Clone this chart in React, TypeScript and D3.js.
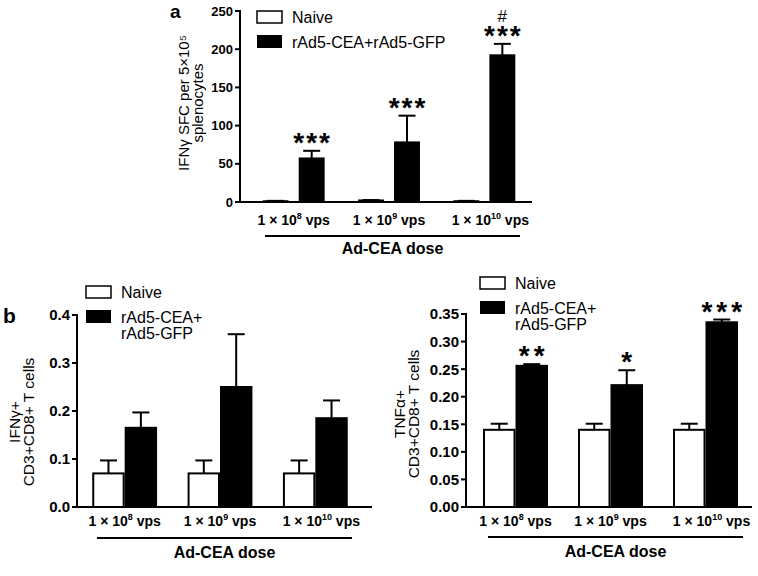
import React from "react";
import * as d3 from "d3";

// shared categories
const doses = ["1e8", "1e9", "1e10"];
const doseExp = ["8", "9", "10"];
const groups = ["naive", "treated"];

// panel a: IFNγ SFC per 5x10^5 splenocytes
const elispotNaive = [1, 2, 1];
const elispotNaiveTop = [1.5, 2.5, 1.5];
const elispotTreated = [57, 78, 192];
const elispotTreatedTop = [67, 113, 207];
const elispotStars = ["***", "***", "***"];
const elispotHash = ["", "", "#"];
const elispotTicks = [0, 50, 100, 150, 200, 250];

// panel b left: IFNγ+ CD3+CD8+ T cells
const ifnNaive = [0.07, 0.07, 0.07];
const ifnNaiveTop = [0.097, 0.097, 0.097];
const ifnTreated = [0.165, 0.25, 0.185];
const ifnTreatedTop = [0.197, 0.36, 0.222];
const ifnStars = ["", "", ""];
const ifnTicks = [0, 0.1, 0.2, 0.3, 0.4];

// panel b right: TNFα+ CD3+CD8+ T cells
const tnfNaive = [0.14, 0.14, 0.14];
const tnfNaiveTop = [0.151, 0.151, 0.151];
const tnfTreated = [0.256, 0.221, 0.335];
const tnfTreatedTop = [0.259, 0.248, 0.34];
const tnfStars = ["**", "*", "***"];
const tnfTicks = [0, 0.05, 0.1, 0.15, 0.2, 0.25, 0.3, 0.35];

const FONT = "'Liberation Sans', Arial, sans-serif";

type PanelProps = {
  x0: number;
  x1: number;
  yTop: number;
  yBottom: number;
  max: number;
  ticks: number[];
  fmt: (d: number) => string;
  tickSize: number;
  band: [number, number];
  pad: number;
  innerPad: number;
  naive: number[];
  naiveTop: number[];
  treated: number[];
  treatedTop: number[];
  stars: string[];
  hash?: string[];
  starSpacing: number;
  catY: number;
  line: [number, number, number];
  titleY: number;
  yLabel: string[];
  yLabelX: number[];
  yLabelY: number;
  yLabelSize: number;
};

const DoseLabel = ({ x, y, exp }: { x: number; y: number; exp: string }) => (
  <text x={x} y={y} textAnchor="middle" fontSize={14} fontWeight="bold" fontFamily={FONT}>
    <tspan>1 × 10</tspan>
    <tspan dy={-6} fontSize={9}>{exp}</tspan>
    <tspan dy={6}> vps</tspan>
  </text>
);

const Panel = (p: PanelProps) => {
  const y = d3.scaleLinear().domain([0, p.max]).range([p.yBottom, p.yTop]);
  const x = d3.scaleBand().domain(doses).range(p.band).paddingInner(p.pad).paddingOuter(p.pad / 2);
  const sub = d3.scaleBand().domain(groups).range([0, x.bandwidth()]).paddingInner(p.innerPad);
  const bw = sub.bandwidth();
  const cap = 17;
  const starSize = 28;

  return (
    <g fontFamily={FONT}>
      {doses.map((d, i) => {
        const rows = [
          { g: "naive", v: p.naive[i], top: p.naiveTop[i], fill: "#fff" },
          { g: "treated", v: p.treated[i], top: p.treatedTop[i], fill: "#000" },
        ];
        const tx = (x(d) as number) + (sub("treated") as number) + bw / 2;
        return (
          <g key={d}>
            {rows.map((r) => {
              const bx = (x(d) as number) + (sub(r.g) as number);
              const cx = bx + bw / 2;
              return (
                <g key={r.g}>
                  <line x1={cx} x2={cx} y1={y(r.v)} y2={y(r.top)} stroke="#000" strokeWidth={2} />
                  <line x1={cx - cap / 2} x2={cx + cap / 2} y1={y(r.top)} y2={y(r.top)} stroke="#000" strokeWidth={2} />
                  <rect
                    x={bx + 1}
                    y={y(r.v)}
                    width={bw - 2}
                    height={p.yBottom - y(r.v)}
                    fill={r.fill}
                    stroke="#000"
                    strokeWidth={2}
                  />
                </g>
              );
            })}
            {p.stars[i] && (
              <text
                x={tx + p.starSpacing / 2}
                y={y(p.treatedTop[i]) - 9 + starSize * 0.36}
                textAnchor="middle"
                fontSize={starSize}
                fontWeight="bold"
                letterSpacing={p.starSpacing}
              >
                {p.stars[i]}
              </text>
            )}
            {p.hash && p.hash[i] && (
              <text x={tx} y={y(p.treatedTop[i]) - 22} textAnchor="middle" fontSize={17}>
                {p.hash[i]}
              </text>
            )}
            <DoseLabel x={(x(d) as number) + x.bandwidth() / 2 + (i === 2 ? 6 : 0)} y={p.catY} exp={doseExp[i]} />
          </g>
        );
      })}
      {/* axes */}
      <line x1={p.x0} x2={p.x0} y1={p.yTop - 1} y2={p.yBottom + 1} stroke="#000" strokeWidth={2} />
      <line x1={p.x0 - 1} x2={p.x1} y1={p.yBottom} y2={p.yBottom} stroke="#000" strokeWidth={2} />
      {p.ticks.map((t) => (
        <g key={t}>
          <line x1={p.x0 - 5} x2={p.x0} y1={y(t)} y2={y(t)} stroke="#000" strokeWidth={2} />
          <text
            x={p.x0 - 7}
            y={y(t) + p.tickSize * 0.36}
            textAnchor="end"
            fontSize={p.tickSize}
            fontWeight="bold"
          >
            {p.fmt(t)}
          </text>
        </g>
      ))}
      <line x1={p.line[0]} x2={p.line[1]} y1={p.line[2]} y2={p.line[2]} stroke="#000" strokeWidth={2} />
      <text x={(p.line[0] + p.line[1]) / 2} y={p.titleY} textAnchor="middle" fontSize={16} fontWeight="bold">
        Ad-CEA dose
      </text>
      {p.yLabel.map((l, i) => (
        <text
          key={i}
          transform={`translate(${p.yLabelX[i]},${p.yLabelY}) rotate(-90)`}
          textAnchor="middle"
          fontSize={p.yLabelSize}
        >
          {l}
        </text>
      ))}
    </g>
  );
};

const Legend = ({ x, y, lines, size }: { x: number; y: number; lines: string[]; size: number }) => (
  <g fontFamily={FONT} fontSize={size}>
    <rect x={x} y={y} width={25} height={12} fill="#fff" stroke="#000" strokeWidth={1.5} />
    <text x={x + 35} y={y + 12}>Naive</text>
    <rect x={x} y={y + 24} width={25} height={13} fill="#000" />
    {lines.map((l, i) => (
      <text key={i} x={x + 35} y={y + 37 + i * 16}>
        {l}
      </text>
    ))}
  </g>
);

export default function App() {
  return (
    <svg width={758} height={576} style={{ position: "absolute", left: 0, top: 0, background: "#fff" }}>
      <text x={170} y={18} fontFamily={FONT} fontSize={19} fontWeight="bold">a</text>
      <text x={3} y={323} fontFamily={FONT} fontSize={21} fontWeight="bold">b</text>

      <Panel
        x0={240}
        x1={532}
        yTop={11}
        yBottom={202}
        max={250}
        ticks={elispotTicks}
        fmt={d3.format("d")}
        tickSize={13}
        band={[246, 532]}
        pad={0.35}
        innerPad={0.28}
        naive={elispotNaive}
        naiveTop={elispotNaiveTop}
        treated={elispotTreated}
        treatedTop={elispotTreatedTop}
        stars={elispotStars}
        hash={elispotHash}
        starSpacing={2}
        catY={225}
        line={[265, 520, 236]}
        titleY={254}
        yLabel={["IFNγ SFC per 5×10⁵", "splenocytes"]}
        yLabelX={[189, 203]}
        yLabelY={103}
        yLabelSize={15}
      />
      <Legend x={257} y={11} lines={["rAd5-CEA+rAd5-GFP"]} size={16} />

      <Panel
        x0={77}
        x1={372}
        yTop={315}
        yBottom={507}
        max={0.4}
        ticks={ifnTicks}
        fmt={d3.format(".1f")}
        tickSize={15}
        band={[77, 363]}
        pad={0.32}
        innerPad={0}
        naive={ifnNaive}
        naiveTop={ifnNaiveTop}
        treated={ifnTreated}
        treatedTop={ifnTreatedTop}
        stars={ifnStars}
        starSpacing={3}
        catY={526}
        line={[97, 352, 538]}
        titleY={558}
        yLabel={["IFNγ+", "CD3+CD8+ T cells"]}
        yLabelX={[20, 34]}
        yLabelY={422}
        yLabelSize={15.5}
      />
      <Legend x={86} y={286} lines={["rAd5-CEA+", "rAd5-GFP"]} size={16} />

      <Panel
        x0={466}
        x1={752}
        yTop={314}
        yBottom={507}
        max={0.35}
        ticks={tnfTicks}
        fmt={d3.format(".2f")}
        tickSize={15}
        band={[468, 753]}
        pad={0.316}
        innerPad={0}
        naive={tnfNaive}
        naiveTop={tnfNaiveTop}
        treated={tnfTreated}
        treatedTop={tnfTreatedTop}
        stars={tnfStars}
        starSpacing={4}
        catY={526}
        line={[488, 743, 537]}
        titleY={557}
        yLabel={["TNFα+", "CD3+CD8+ T cells"]}
        yLabelX={[405, 419]}
        yLabelY={414}
        yLabelSize={15.5}
      />
      <Legend x={480} y={277} lines={["rAd5-CEA+", "rAd5-GFP"]} size={16} />
    </svg>
  );
}
